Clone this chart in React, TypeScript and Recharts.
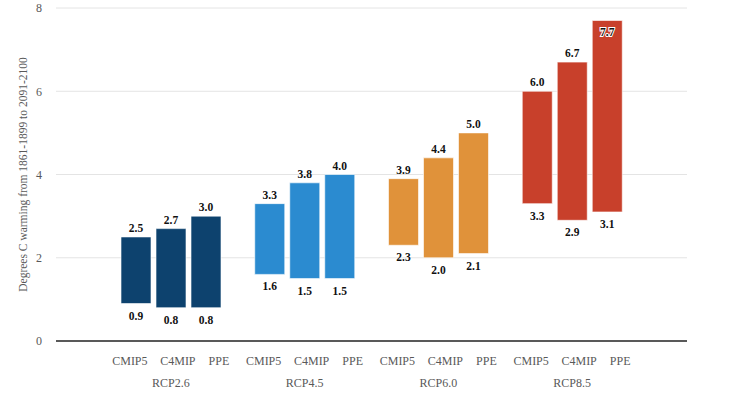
import { Bar, BarChart, CartesianGrid, Cell, LabelList, XAxis, YAxis } from 'recharts';

const scenarios = ['RCP2.6', 'RCP4.5', 'RCP6.0', 'RCP8.5'];
const models = ['CMIP5', 'C4MIP', 'PPE'];
const scenarioColors = ['#0d426e', '#2b8bd0', '#e0923a', '#c8402b'];

const cmip5Low = [0.9, 1.6, 2.3, 3.3];
const cmip5High = [2.5, 3.3, 3.9, 6.0];
const c4mipLow = [0.8, 1.5, 2.0, 2.9];
const c4mipHigh = [2.7, 3.8, 4.4, 6.7];
const ppeLow = [0.8, 1.5, 2.1, 3.1];
const ppeHigh = [3.0, 4.0, 5.0, 7.7];

const yTicks = [0, 2, 4, 6, 8];

const FONT = "'Liberation Serif', 'Times New Roman', serif";

const data = scenarios.map((name, i) => ({
  name,
  cmip5: [cmip5Low[i], cmip5High[i]],
  c4mip: [c4mipLow[i], c4mipHigh[i]],
  ppe: [ppeLow[i], ppeHigh[i]],
}));

// sub-category label offsets from the group centre
const subOffsets = [-41, 7, 48];

const GroupTick = (props: any) => {
  const { x, y, payload } = props;
  const txt = { fontFamily: FONT, fontSize: 12, fill: '#595959' };
  return (
    <g>
      {models.map((m, i) => (
        <text key={m} x={x + subOffsets[i]} y={y + 20} textAnchor="middle" dominantBaseline="central" style={txt}>
          {m}
        </text>
      ))}
      <text x={x} y={y + 42} textAnchor="middle" dominantBaseline="central" style={txt}>
        {payload.value}
      </text>
    </g>
  );
};

const rangeLabel = (props: any) => {
  const { x, y, width, height, value } = props;
  if (!Array.isArray(value)) return null;
  const cx = x + width / 2;
  const [lo, hi] = value as number[];
  const top = Math.min(y, y + height);
  const bottom = Math.max(y, y + height);
  const topInside = top < 30;
  const txt = { fontFamily: FONT, fontSize: 11.5, fontWeight: 700, fill: '#111' };
  return (
    <g>
      <text
        x={cx}
        y={topInside ? top + 12 : top - 9}
        textAnchor="middle"
        dominantBaseline="central"
        style={{
          ...txt,
          stroke: topInside ? '#fff' : 'none',
          strokeWidth: topInside ? 2 : 0,
          paintOrder: 'stroke',
        }}
      >
        {hi.toFixed(1)}
      </text>
      <text x={cx} y={bottom + 12} textAnchor="middle" dominantBaseline="central" style={txt}>
        {lo.toFixed(1)}
      </text>
    </g>
  );
};

export default function App() {
  return (
    <div style={{ width: 743, height: 395, background: '#fff', fontFamily: FONT }}>
      <style>{`body{margin:0}`}</style>
      <BarChart
        width={743}
        height={395}
        data={data}
        margin={{ top: 8, right: 56, bottom: 0, left: 0 }}
        barSize={30}
        barGap={5}
        style={{ fontFamily: FONT }}
      >
        <CartesianGrid vertical={false} stroke="#e4e4e4" strokeWidth={1} />
        <XAxis
          dataKey="name"
          height={54}
          padding={{ left: 48, right: 48 }}
          axisLine={{ stroke: '#595959', strokeWidth: 2 }}
          tickLine={false}
          tickSize={0}
          tickMargin={0}
          tick={<GroupTick />}
          interval={0}
        />
        <YAxis
          width={56}
          domain={[0, 8]}
          ticks={yTicks}
          axisLine={false}
          tickLine={false}
          tickMargin={8}
          tick={{ fill: '#595959', fontSize: 12, fontFamily: FONT }}
          label={{
            value: 'Degrees C warming from 1861-1899 to 2091-2100',
            angle: -90,
            position: 'insideLeft',
            dx: 18,
            style: { textAnchor: 'middle', fill: '#595959', fontSize: 11.5, fontFamily: FONT },
          }}
        />
        {['cmip5', 'c4mip', 'ppe'].map((key) => (
          <Bar key={key} dataKey={key} isAnimationActive={false} stroke="#ffffff" strokeOpacity={0.6} strokeWidth={1}>
            {data.map((d, i) => (
              <Cell key={d.name} fill={scenarioColors[i]} />
            ))}
            <LabelList dataKey={key} content={rangeLabel} />
          </Bar>
        ))}
      </BarChart>
    </div>
  );
}
